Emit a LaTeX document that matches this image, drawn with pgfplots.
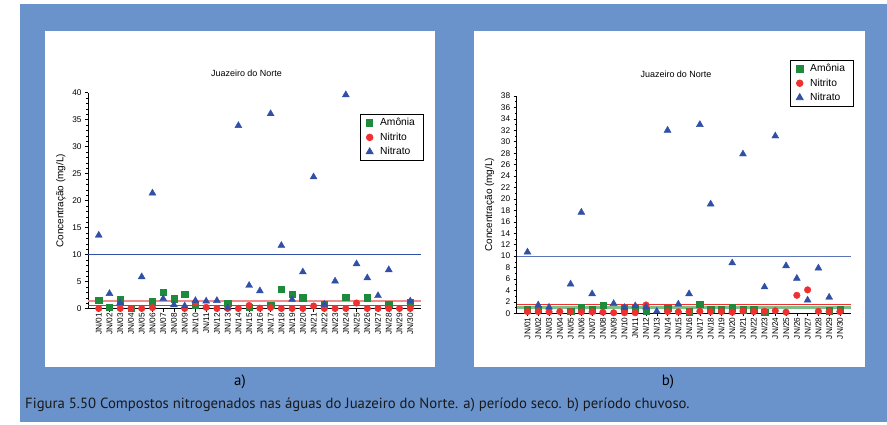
\documentclass[border=0pt]{standalone}
\usepackage{pgfplots}
\pgfplotsset{compat=1.18}
\usepackage{fontspec}
\setmainfont{Liberation Sans}
\newfontfamily\capfont{PT Sans}
\definecolor{bgblue}{HTML}{6A93CC}
\definecolor{triblue}{HTML}{3050A8}
\definecolor{sqgreen}{HTML}{1E8A3C}
\definecolor{dotred}{HTML}{F03030}
\definecolor{salmon}{HTML}{F08C8C}
\definecolor{lightgreen}{HTML}{7CC088}
\pgfplotsset{
  common/.style={
    scale only axis,
    axis lines=left,
    axis line style={-, line width=0.7bp},
    xmin=0, xmax=31, ymin=0,
    xtick={1,...,30},
    xticklabels={JN/01,JN/02,JN/03,JN/04,JN/05,JN/06,JN/07,JN/08,JN/09,JN/10,JN/11,JN/12,JN/13,JN/14,JN/15,JN/16,JN/17,JN/18,JN/19,JN/20,JN/21,JN/22,JN/23,JN/24,JN/25,JN/26,JN/27,JN/28,JN/29,JN/30},
    x tick label style={rotate=90, anchor=east, inner sep=1bp},
    tick label style={font=\fontsize{8.3}{9}\selectfont},
    /pgf/number format/assume math mode=true,
    tick align=outside,
    major tick length=3bp, minor tick length=1.8bp,
    tick style={black, line width=0.5bp},
    ylabel={Concentração (mg/L)},
    ylabel style={font=\fontsize{10}{12}\selectfont},
    clip=false,
    legend style={draw=black, line width=0.8bp, fill=white, font=\fontsize{10.3}{12}\selectfont, anchor=north east, row sep=1.5bp, inner xsep=6bp, inner ysep=2bp,
      /tikz/every odd column/.append style={column sep=5bp}},
    legend cell align=left,
  },
  amo/.style={only marks, mark=square*, mark size=3.2bp, color=sqgreen, mark options={draw=sqgreen, fill=sqgreen}},
  nitri/.style={only marks, mark=*, mark size=3.3bp, color=dotred, mark options={draw=dotred, fill=dotred}},
  nitra/.style={only marks, mark=triangle*, mark size=4bp, color=triblue, mark options={draw=triblue, fill=triblue}},
}
\begin{document}
\begin{tikzpicture}
\path (0,0) rectangle (887bp,425bp);
\fill[bgblue] (20bp,3bp) rectangle (887bp,421bp);
\fill[white] (45bp,58bp) rectangle (435bp,394bp);
\fill[white] (474bp,58bp) rectangle (865bp,394bp);
\node[font=\fontsize{9}{11}\selectfont] at (246.5bp,352bp) {Juazeiro do Norte};
\node[font=\fontsize{9}{11}\selectfont] at (676bp,351bp) {Juazeiro do Norte};
\node[font=\capfont\fontsize{15}{17}\selectfont] at (240bp,43bp) {a)};
\node[font=\capfont\fontsize{15}{17}\selectfont] at (668bp,43bp) {b)};
\node[font=\capfont\fontsize{14.8}{16}\selectfont, anchor=west, inner sep=0pt, text=black!90] at (25bp,20bp) {Figura 5.50 Compostos nitrogenados nas águas do Juazeiro do Norte. a) período seco. b) período chuvoso.};

\begin{axis}[common, at={(88bp,116.3bp)}, anchor=south west, width=333bp, height=216bp,
  ymax=40, ytick={0,5,...,40}, minor y tick num=4,
  legend style={at={(1.007,0.901)}}]
\addplot[forget plot, triblue, line width=0.8bp] coordinates {(0,10) (31,10)};
\addplot[forget plot, salmon, line width=1.8bp] coordinates {(0,1.45) (31,1.45)};
\addplot[forget plot, sqgreen, line width=0.8bp] coordinates {(0,0.6) (31,0.6)};
\addplot[amo] coordinates {(1,1.55)(2,0.3)(3,1.7)(4,0.1)(6,1.4)(7,3.0)(8,1.85)(9,2.7)(10,0.75)(13,1.0)(15,0.3)(17,0.7)(18,3.6)(19,2.65)(20,2.0)(22,0.8)(24,2.1)(26,2.0)(28,0.8)(30,1.1)};
\addlegendentry{Amônia}
\addplot[nitri] coordinates {(1,0.05)(3,0.05)(4,0.05)(5,0.05)(6,0.2)(9,0.05)(10,1.05)(11,0.25)(12,0.05)(13,0.05)(14,0.05)(15,0.6)(16,0.1)(17,0.2)(18,0.05)(19,0.05)(20,0.05)(21,0.5)(22,0.05)(23,0.05)(24,0.05)(25,1.05)(26,0.05)(27,0.05)(28,0.05)(29,0.05)(30,0.05)};
\addlegendentry{Nitrito}
\addplot[nitra] coordinates {(1,13.6)(2,2.8)(3,1.1)(5,5.9)(6,21.4)(7,1.85)(8,0.7)(9,0.5)(10,1.5)(11,1.4)(12,1.5)(13,0.15)(14,33.9)(15,4.3)(16,3.3)(17,36.1)(18,11.7)(19,1.7)(20,6.8)(21,24.4)(22,0.8)(23,5.1)(24,39.6)(25,8.3)(26,5.7)(27,2.4)(28,7.2)(30,1.4)};
\addlegendentry{Nitrato}
\end{axis}

\begin{axis}[common, at={(516.7bp,111.7bp)}, anchor=south west, width=334bp, height=217.3bp,
  ymax=38, ytick={0,2,...,38}, minor y tick num=1,
  legend style={at={(1.008,1.166)}}]
\addplot[forget plot, triblue!80, line width=1.2bp] coordinates {(0,10) (31,10)};
\addplot[forget plot, lightgreen, line width=2.2bp] coordinates {(0,1.0) (31,1.0)};
\addplot[forget plot, dotred, line width=0.8bp] coordinates {(0,1.5) (31,1.5)};
\addplot[amo] coordinates {(1,0.6)(2,0.7)(5,0.4)(6,1.0)(7,0.6)(8,1.45)(10,0.9)(11,0.8)(12,0.45)(14,0.9)(16,0.3)(17,1.6)(18,0.7)(19,0.75)(20,1.0)(21,0.6)(22,0.7)(23,0.2)(29,0.45)(30,0.75)};
\addlegendentry{Amônia}
\addplot[nitri] coordinates {(1,0.3)(2,0.3)(3,0.25)(4,0.3)(5,0.3)(6,0.25)(7,0.25)(8,0.2)(9,0.1)(10,0.1)(11,0.1)(12,1.45)(14,0.3)(15,0.25)(16,0.3)(17,0.35)(18,0.3)(19,0.3)(20,0.2)(21,0.4)(22,0.3)(23,0.35)(24,0.45)(25,0.2)(26,3.15)(27,4.1)(28,0.35)(29,0.3)(30,0.3)};
\addlegendentry{Nitrito}
\addplot[nitra] coordinates {(1,10.7)(2,1.45)(3,1.05)(5,5.1)(6,17.65)(7,3.4)(9,1.7)(10,1.0)(11,1.3)(12,1.05)(13,0.35)(14,32.0)(15,1.6)(16,3.4)(17,33.0)(18,19.1)(20,8.8)(21,27.85)(23,4.6)(24,31.0)(25,8.3)(26,6.1)(27,2.3)(28,7.9)(29,2.8)};
\addlegendentry{Nitrato}
\end{axis}
\end{tikzpicture}
\end{document}
